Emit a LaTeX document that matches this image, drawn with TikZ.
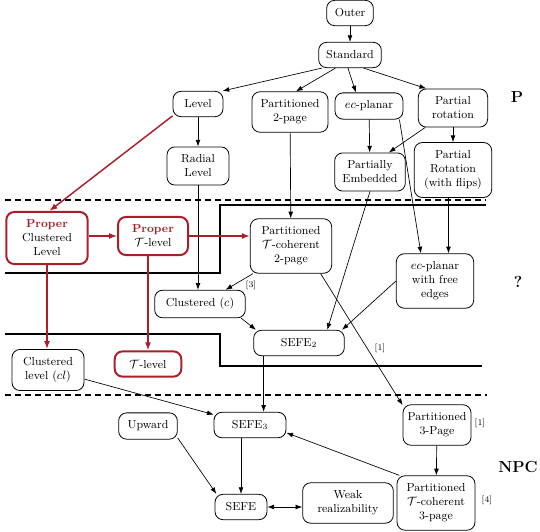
\documentclass[tikz,border=0pt]{standalone}
\usepackage{tikz}
\usetikzlibrary{arrows.meta}
\definecolor{properred}{RGB}{172,30,42}
\newcommand{\properword}{\textcolor{properred}{\textbf{Proper}}}

\begin{document}
\begin{tikzpicture}[x=0.75pt,y=0.75pt,yscale=-1,xscale=1,
  box/.style={draw,rounded corners=6pt,line width=0.6pt,align=center,inner xsep=3pt,inner ysep=6pt,minimum height=19pt,font=\fontsize{8.7}{10.5}\selectfont},
  redbox/.style={box,draw=properred,line width=1.5pt},
  arr/.style={-{Latex[length=5pt,width=3.6pt]},line width=0.5pt},
  redarr/.style={-{Latex[length=6pt,width=4.5pt]},draw=properred,line width=1.1pt},
  dashline/.style={dash pattern=on 4.5pt off 3pt,line width=1.5pt},
  wall/.style={line width=1.6pt},
  cls/.style={font=\fontsize{12}{14}\bfseries\selectfont},
  ref/.style={font=\fontsize{6.5}{8}\selectfont,inner sep=1pt}]
\useasboundingbox (0,0) rectangle (540,532);

%Class borders
\draw [dashline] (5,200) -- (486,200) ;
\draw [dashline] (5,395) -- (487,395) ;
\draw [wall] (5,273) -- (220,273) -- (220,205) -- (486,205) ;
\draw [wall] (5,334) -- (220,334) -- (220,366) -- (482,366) ;

%Polynomial
\node (out) at (350,13) [box,minimum width=35pt] {Outer};
\node (std) at (350,55) [box,minimum width=47pt] {Standard};
\node (lvl) at (198,104) [box,minimum width=37.5pt] {Level};
\node (p2p) at (290,112) [box,minimum width=57pt] {Partitioned\\2-page};
\node (ecp) at (369,106) [box,minimum width=51pt] {$ec$-planar};
\node (prot) at (453,108) [box,minimum width=52pt] {Partial\\rotation};
\node (rad) at (198,166) [box,minimum width=46.5pt] {Radial\\Level};
\node (pemb) at (370,172) [box,minimum width=53pt] {Partially\\Embedded};
\node (prf) at (453,170) [box,minimum width=58pt] {Partial\\Rotation\\(with flips)};

%Open
\node (pcl) at (47,238) [redbox,minimum width=61pt] {\properword\\Clustered\\Level};
\node (ptl) at (153,236) [redbox,minimum width=52.5pt] {\properword\\$\mathcal{T}$-level};
\node (pt2) at (291,246) [box,minimum width=61pt] {Partitioned\\$\mathcal{T}$-coherent\\2-page};
\node (ecf) at (435,281) [box,minimum width=58pt] {$ec$-planar\\with free\\edges};
\node (clc) at (200,304) [box,minimum width=68pt] {Clustered ($c$)};
\node (sefe2) at (299,343) [box,minimum width=68pt] {SEFE$_2$};
\node (cl) at (48,370) [box,minimum width=54pt] {Clustered\\level ($cl$)};
\node (tlv) at (148,364) [redbox,minimum width=50pt] {$\mathcal{T}$-level};

%NP-complete
\node (sefe3) at (250,425) [box,minimum width=54pt] {SEFE$_3$};
\node (upw) at (148,426) [box,minimum width=44pt] {Upward};
\node (p3p) at (437,425) [box,minimum width=51pt] {Partitioned\\3-Page};
\node (sefe) at (241,507) [box,minimum width=39pt] {SEFE};
\node (weak) at (348,503) [box,minimum width=68pt] {Weak\\realizability};
\node (pt3) at (436,503) [box,minimum width=58.5pt] {Partitioned\\$\mathcal{T}$-coherent\\3-page};

%Reductions
\draw [arr] (out) -- (std) ;
\draw [arr] (std.205) -- (lvl.28) ;
\draw [arr] (std.222) -- (p2p.74) ;
\draw [arr] (std.261) -- (ecp.134) ;
\draw [arr] (std.316) -- (prot.144) ;
\draw [arr] (lvl) -- (rad) ;
\draw [arr] (ecp) -- (pemb) ;
\draw [arr] (prot.215) -- (pemb.46) ;
\draw [arr] (prot) -- (prf) ;
\draw [arr] (ecp.-24) -- (ecf.117) ;
\draw [arr] (ecf.64 |- prf.south) -- (ecf.64) ;
\draw [arr] (p2p) -- (pt2) ;
\draw [arr] (rad.south) -- (rad.south |- clc.north) ;
\draw [arr] (pemb.south) -- (sefe2.25) ;
\draw [arr] (ecf.west) -- (sefe2.17) ;
\draw [arr] (clc.-19) -- (sefe2.163) ;
\draw [arr] (pt2.216) -- (clc.29) ;
\draw [arr] (pt2.-43) -- (p3p.150) ;
\draw [arr] (sefe3.44 |- sefe2.south) -- (sefe3.44) ;
\draw [arr] (cl.-14) -- (sefe3.164) ;
\draw [arr] (p3p) -- (pt3) ;
\draw [arr] (pt3.143) -- (sefe3.-12) ;
\draw [arr] (upw.-22) -- (sefe.152) ;
\draw [arr] (sefe3.south -| sefe.north) -- (sefe.north) ;
\draw [arr,{Latex[length=5pt,width=3.6pt]}-{Latex[length=5pt,width=3.6pt]}] (sefe.east) -- (sefe.east -| weak.west) ;

%Proper variants
\draw [redarr] (lvl.205) -- (pcl.85) ;
\draw [redarr] (pcl.east |- ptl.west) -- (ptl.west) ;
\draw [redarr] (ptl.east) -- (ptl.east -| pt2.west) ;
\draw [redarr] (pcl.south) -- (pcl.south |- cl.north) ;
\draw [redarr] (ptl.south -| tlv.north) -- (tlv.north) ;

% Text Node
\node (r3) at (251,285) [ref] {[3]};
\node (r1a) at (380,348) [ref] {[1]};
\node (r1b) at (480,423) [ref] {[1]};
\node (r4) at (487,500) [ref] {[4]};
% Text Node
\node (clsp) at (517,97) [cls] {P};
\node (clsq) at (518,282) [cls] {?};
\node (clsnpc) at (518,467) [cls] {NPC};

\end{tikzpicture}
\end{document}
